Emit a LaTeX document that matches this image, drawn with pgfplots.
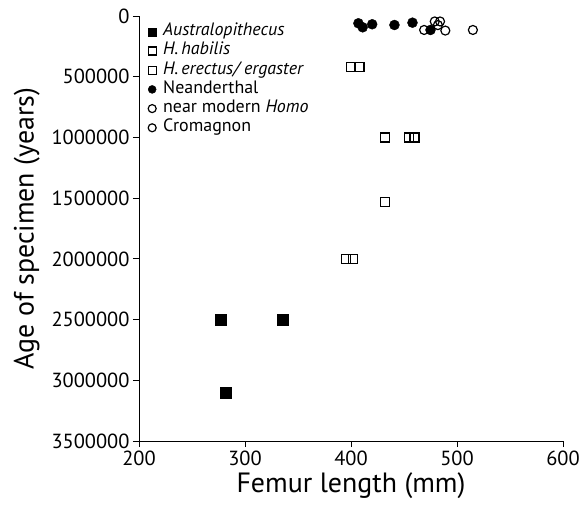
\documentclass[border=0pt]{standalone}
\usepackage{fontspec}
\setmainfont{PT Sans}
\usepackage{pgfplots}
\pgfplotsset{compat=1.18}
\begin{document}
\begin{tikzpicture}
\begin{axis}[
  name=ax,
  scale only axis,
  width=424bp, height=425bp,
  xmin=200, xmax=600, ymin=0, ymax=3500000,
  y dir=reverse,
  axis x line=bottom, axis y line=left,
  axis line style={-, line width=0.9bp},
  xtick={200,300,400,500,600},
  ytick={0,500000,1000000,1500000,2000000,2500000,3000000,3500000},
  tick align=outside, major tick length=6bp,
  tick style={line width=0.9bp, black},
  scaled y ticks=false,
  /pgf/number format/assume math mode=true,
  yticklabel style={/pgf/number format/fixed,/pgf/number format/1000 sep={}},
  ticklabel style={font=\fontsize{20.5}{23}\selectfont},
  xlabel={Femur length (mm)},
  ylabel={Age of specimen (years)},
  label style={font=\fontsize{28}{32}\selectfont},
  xlabel style={yshift=0bp},
  ylabel style={yshift=5bp},
  legend style={at={(0,1)}, anchor=north west, xshift=6bp, yshift=-4bp, draw=none, fill=none,
    font=\fontsize{18}{21}\selectfont,
    nodes={text height=12bp, text depth=4bp, inner ysep=1.6bp, inner xsep=2bp},
    /tikz/every odd column/.append style={column sep=5bp}},
  legend cell align=left,
  legend image code/.code={\draw[#1,mark size=4bp] plot coordinates {(0.15cm,0cm)};},
]
\addplot[only marks, mark=square*, mark size=5.5bp, black] coordinates {
(277,2500000) (336,2500000) (282,3100000)};
\addlegendentry{\textit{Australopithecus}}
\addplot[only marks, mark=square, mark size=4.5bp, black, line width=1.2bp] coordinates {
(395,2000000) (402,2000000) (432,1530000)};
\addlegendentry{\textit{H.\,habilis}}
\addplot[only marks, mark=square, mark size=4.5bp, black, line width=1.2bp] coordinates {
(400,420000) (408,420000) (432,1000000) (455,1000000) (460,1000000)};
\addlegendentry{\textit{H.\,erectus/ ergaster}}
\addplot[only marks, mark=*, mark size=5bp, black] coordinates {
(407,60000) (411,93000) (420,68000) (441,74000) (458,55000) (475,115000)};
\addlegendentry{Neanderthal}
\addplot[only marks, mark=o, mark size=4.5bp, black, line width=1.2bp] coordinates {
(469,115000) (489,120000) (515,115000)};
\addlegendentry{near modern \textit{Homo}}
\addplot[only marks, mark=o, mark size=4.5bp, black, line width=1.2bp] coordinates {
(479,45000) (484,45000) (482,75000)};
\addlegendentry{Cromagnon}
\end{axis}
\pgfresetboundingbox
\path[use as bounding box] ([shift={(-139bp,-67bp)}]ax.south west) rectangle ([shift={(17bp,16bp)}]ax.north east);
\end{tikzpicture}
\end{document}
